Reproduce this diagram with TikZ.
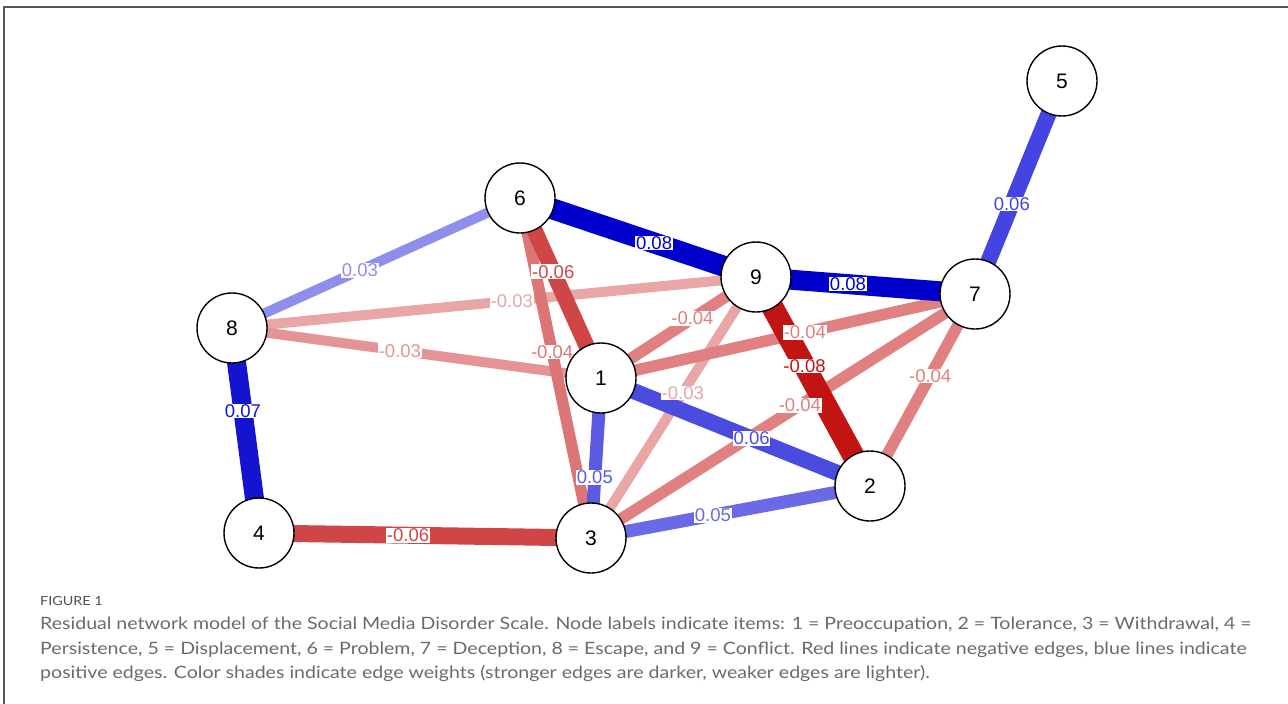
\documentclass[tikz,border=0pt]{standalone}
\usepackage{fontspec}
\setmainfont{Liberation Sans}
\newfontfamily\capfont[FakeStretch=1.15]{Lato}
\usetikzlibrary{calc}
\pgfdeclarelayer{edgelayer}
\pgfdeclarelayer{labellayer}
\pgfsetlayers{edgelayer,labellayer,main}
\definecolor{bA}{HTML}{0000CC}
\definecolor{bB}{HTML}{1414D0}
\definecolor{bC}{HTML}{4444E0}
\definecolor{bD}{HTML}{4B4BE0}
\definecolor{bE}{HTML}{5A5AE3}
\definecolor{bF}{HTML}{6A6AE6}
\definecolor{bG}{HTML}{8E8EEC}
\definecolor{rA}{HTML}{C31414}
\definecolor{rB}{HTML}{D04646}
\definecolor{rC}{HTML}{DC7676}
\definecolor{rD}{HTML}{E08080}
\definecolor{rE}{HTML}{E49494}
\definecolor{rF}{HTML}{E8A6A6}
\definecolor{capgray}{HTML}{6A6A6A}
\definecolor{figgray}{HTML}{505050}
\definecolor{framegray}{HTML}{555555}
\newcommand{\netedge}[6]{%
  \begin{pgfonlayer}{edgelayer}\draw[line width=#4pt,draw=#5] (#1.center) -- (#2.center);\end{pgfonlayer}%
  \begin{pgfonlayer}{labellayer}\node[elab,text=#5] (#1#2) at ($(#1.center)!#3!(#2.center)$) {#6};\end{pgfonlayer}}
\begin{document}
\begin{tikzpicture}[x=1pt,y=-1pt,
  item/.style={circle,draw=black,fill=white,line width=1.4pt,minimum size=70pt,inner sep=0pt,font=\fontsize{21}{21}\selectfont},
  elab/.style={fill=white,inner sep=0.8pt,font=\fontsize{18.5}{18.5}\selectfont},
  capline/.style={anchor=base west,inner sep=0pt,text=capgray,font=\capfont\fontsize{17}{17}\selectfont}]
\useasboundingbox (0,0) rectangle (1288,704);
\draw[framegray,line width=1.2pt] (4,704) -- (4,7) -- (1288,7);
% nodes
\node[item] (n1) at (601,378) {1};
\node[item] (n2) at (870,486) {2};
\node[item] (n3) at (591,538) {3};
\node[item] (n4) at (259,533) {4};
\node[item] (n5) at (1062,81) {5};
\node[item] (n6) at (520,198) {6};
\node[item] (n7) at (975,294) {7};
\node[item] (n8) at (232,328) {8};
\node[item] (n9) at (756,277) {9};
% edges
\netedge{n8}{n9}{0.534}{10}{rF}{-0.03}
\netedge{n9}{n3}{0.444}{10}{rF}{-0.03}
\netedge{n8}{n1}{0.455}{10}{rE}{-0.03}
\netedge{n6}{n8}{0.556}{10}{bG}{0.03}
\netedge{n6}{n3}{0.453}{11.5}{rC}{-0.04}
\netedge{n9}{n1}{0.41}{11.5}{rD}{-0.04}
\netedge{n1}{n7}{0.545}{11.5}{rD}{-0.04}
\netedge{n7}{n3}{0.456}{11.5}{rD}{-0.04}
\netedge{n7}{n2}{0.427}{11.5}{rD}{-0.04}
\netedge{n3}{n2}{0.437}{13}{bF}{0.05}
\netedge{n1}{n3}{0.62}{13}{bE}{0.05}
\netedge{n1}{n2}{0.56}{16}{bD}{0.06}
\netedge{n5}{n7}{0.577}{16}{bC}{0.06}
\netedge{n6}{n1}{0.41}{16}{rB}{-0.06}
\netedge{n4}{n3}{0.449}{17}{rB}{-0.06}
\netedge{n8}{n4}{0.405}{19}{bB}{0.07}
\netedge{n6}{n9}{0.568}{21}{bA}{0.08}
\netedge{n9}{n7}{0.42}{20}{bA}{0.08}
\netedge{n9}{n2}{0.426}{22}{rA}{-0.08}
% caption
\node[anchor=base west,inner sep=0pt,text=figgray,font=\capfont\fontsize{12.5}{12.5}\selectfont] (fig) at (40,605) {FIGURE 1};
\node[capline] (c1) at (40,629) {Residual network model of the Social Media Disorder Scale. Node labels indicate items: 1 = Preoccupation, 2 = Tolerance, 3 = Withdrawal, 4 =};
\node[capline] (c2) at (40,654) {Persistence, 5 = Displacement, 6 = Problem, 7 = Deception, 8 = Escape, and 9 = Conflict. Red lines indicate negative edges, blue lines indicate};
\node[capline] (c3) at (40,678) {positive edges. Color shades indicate edge weights (stronger edges are darker, weaker edges are lighter).};
\end{tikzpicture}
\end{document}
